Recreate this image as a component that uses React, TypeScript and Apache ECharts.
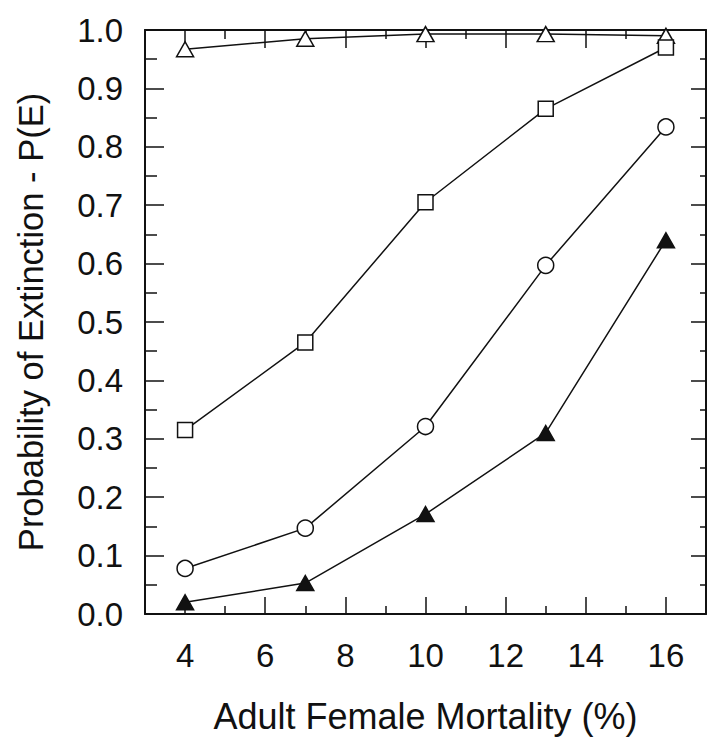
import React, { useEffect, useRef } from "react";
import * as echarts from "echarts";

const mortality = [4, 7, 10, 13, 16];
const openTriangle = [0.967, 0.985, 0.993, 0.993, 0.99];
const openSquare = [0.315, 0.465, 0.705, 0.865, 0.97];
const openCircle = [0.078, 0.147, 0.321, 0.597, 0.834];
const filledTriangle = [0.02, 0.053, 0.171, 0.31, 0.64];
const xMajorTicks = [4, 6, 8, 10, 12, 14, 16];
const xMinorTicks = [5, 7, 9, 11, 13, 15];
const xTitle = "Adult Female Mortality (%)";
const yTitle = "Probability of Extinction - P(E)";

const FONT = "'Liberation Sans', Arial, sans-serif";
const INK = "#111";

function pairs(ys: number[]) {
  return mortality.map((x, i) => [x, ys[i]]);
}

export default function App() {
  const ref = useRef<HTMLDivElement>(null);
  useEffect(() => {
    if (!ref.current) return;
    const chart = echarts.init(ref.current, undefined, { renderer: "svg" });
    const axisLine = { show: true, onZero: false, lineStyle: { color: INK, width: 2 } };
    const xBase = { type: "value", min: 3, max: 17, interval: 1, splitLine: { show: false } };
    const yBase = { type: "value", min: 0, max: 1, interval: 0.1, splitLine: { show: false } };
    const lineSeries = (name: string, ys: number[], symbol: string, size: any, fill: string) => ({
      name,
      type: "line",
      data: pairs(ys),
      xAxisIndex: 0,
      yAxisIndex: 0,
      symbol,
      symbolSize: size,
      showSymbol: true,
      clip: false,
      lineStyle: { color: INK, width: 1.5 },
      itemStyle: { color: fill, borderColor: INK, borderWidth: 1.5 },
      z: 3,
    });
    chart.setOption({
      animation: false,
      backgroundColor: "#fff",
      grid: { left: 145, right: 2, top: 30, bottom: 132 },
      xAxis: [
        {
          ...xBase,
          position: "bottom",
          axisLine,
          axisTick: { show: true, inside: true, length: 17, customValues: xMajorTicks, lineStyle: { color: INK, width: 1.5 } },
          axisLabel: { show: true, customValues: xMajorTicks, margin: 25, color: INK, fontSize: 33, fontFamily: FONT },
          name: xTitle,
          nameLocation: "middle",
          nameGap: 84,
          nameTextStyle: { color: INK, fontSize: 36, fontFamily: FONT },
        },
        {
          ...xBase,
          position: "bottom",
          axisLine: { show: false, onZero: false },
          axisTick: { show: true, inside: true, length: 8, customValues: xMinorTicks, lineStyle: { color: INK, width: 1.5 } },
          axisLabel: { show: false },
        },
        {
          ...xBase,
          position: "top",
          axisLine,
          axisTick: { show: true, inside: true, length: 18, customValues: xMajorTicks, lineStyle: { color: INK, width: 1.5 } },
          axisLabel: { show: false },
        },
        {
          ...xBase,
          position: "top",
          axisLine: { show: false, onZero: false },
          axisTick: { show: true, inside: true, length: 9, customValues: xMinorTicks, lineStyle: { color: INK, width: 1.5 } },
          axisLabel: { show: false },
        },
      ],
      yAxis: [
        {
          ...yBase,
          position: "left",
          axisLine,
          axisTick: { show: true, inside: true, length: 19, lineStyle: { color: INK, width: 1.5 } },
          minorTick: { show: true, splitNumber: 2, length: 12, lineStyle: { color: INK, width: 1.5 } },
          axisLabel: {
            show: true,
            margin: 22,
            color: INK,
            fontSize: 33,
            fontFamily: FONT,
            formatter: (v: number) => v.toFixed(1),
          },
          name: yTitle,
          nameLocation: "middle",
          nameGap: 97,
          nameTextStyle: { color: INK, fontSize: 34.5, fontFamily: FONT },
        },
        {
          ...yBase,
          position: "right",
          axisLine,
          axisTick: { show: true, inside: true, length: 15, lineStyle: { color: INK, width: 1.5 } },
          minorTick: { show: true, splitNumber: 2, length: 6, lineStyle: { color: INK, width: 1.5 } },
          axisLabel: { show: false },
        },
      ],
      series: [
        lineSeries("Open triangles", openTriangle, "triangle", [17, 15], "#fff"),
        lineSeries("Open squares", openSquare, "rect", 15, "#fff"),
        lineSeries("Open circles", openCircle, "circle", 16, "#fff"),
        lineSeries("Filled triangles", filledTriangle, "triangle", [17, 15], INK),
      ],
    });
    return () => chart.dispose();
  }, []);
  return (
    <div
      ref={ref}
      style={{ position: "fixed", left: 0, top: 0, width: 708, height: 746, background: "#fff" }}
    />
  );
}
